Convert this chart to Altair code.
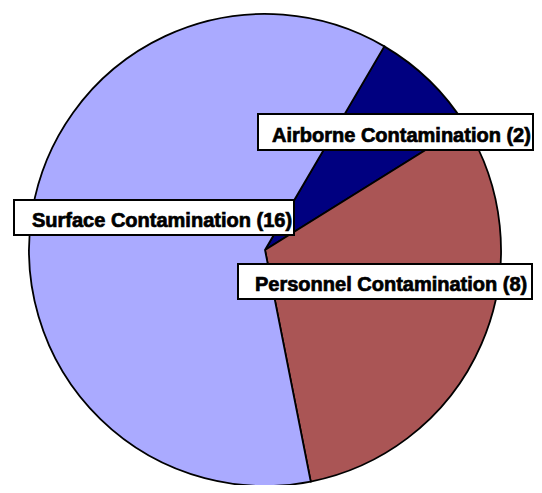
import math
import altair as alt
import pandas as pd

# ---- data ----
categories = ["Airborne Contamination", "Personnel Contamination", "Surface Contamination"]
counts = [2, 8, 16]
colors = ["#000080", "#AA5555", "#AAAAFF"]

df = pd.DataFrame({
    "category": categories,
    "count": counts,
    "order": list(range(len(categories))),
})
df["label"] = [f"{c} ({n})" for c, n in zip(categories, counts)]

START = 0.53  # radians, clockwise from 12 o'clock

pie = alt.Chart(df).mark_arc(
    stroke="black", strokeWidth=1.8, outerRadius=236
).encode(
    theta=alt.Theta("count:Q", stack=True,
                    scale=alt.Scale(range=[START, START + 2 * math.pi])),
    color=alt.Color("category:N", legend=None,
                    scale=alt.Scale(domain=categories, range=colors)),
    order=alt.Order("order:Q"),
    x=alt.value(257),
    y=alt.value(242),
)

# label layout (box left, top, right, bottom; text x, baseline) in view pixels
layout = {
    "Airborne Contamination": (250, 106, 525, 142, 264, 134),
    "Surface Contamination": (6, 192, 286, 227, 24, 219),
    "Personnel Contamination": (230, 256, 524, 291, 247, 283),
}

layers = [pie]
for cat in categories:
    l, t, r, b, tx, ty = layout[cat]
    sub = alt.Chart(df).transform_filter(alt.datum.category == cat)
    box = sub.mark_rect(fill="white", stroke="black", strokeWidth=2).encode(
        x=alt.value(l), x2=alt.value(r), y=alt.value(t), y2=alt.value(b)
    )
    txt = sub.mark_text(
        align="left", baseline="alphabetic", font="Liberation Sans",
        fontSize=20, fontWeight="bold", color="black",
        stroke="black", strokeWidth=0.7,
    ).encode(text="label:N", x=alt.value(tx), y=alt.value(ty))
    layers += [box, txt]

chart = alt.layer(*layers).properties(
    width=526, height=477, padding=0, autosize=alt.AutoSizeParams(type="none")
).configure_view(strokeWidth=0)

chart.save("out.html", embed_options={"renderer": "svg", "actions": False})
